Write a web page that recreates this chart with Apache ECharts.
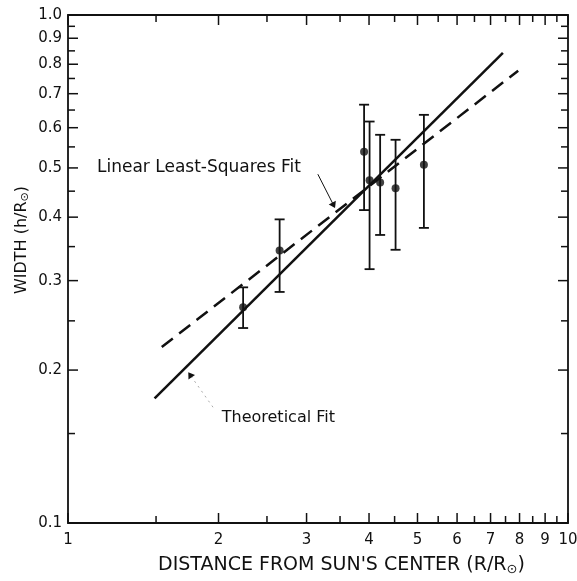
<!DOCTYPE html>
<html>
<head>
<meta charset="utf-8">
<style>
  html, body { margin: 0; padding: 0; background: #fff; }
  #chart { width: 577px; height: 581px; }
</style>
<script src="https://cdn.jsdelivr.net/npm/echarts@6/dist/echarts.min.js"></script>
</head>
<body>
<div id="chart"></div>
<script>
const distance = [2.24, 2.65, 3.91, 4.01, 4.21, 4.52, 5.15];
const width = [0.266, 0.344, 0.538, 0.473, 0.468, 0.456, 0.507];
const widthLow = [0.242, 0.285, 0.413, 0.316, 0.369, 0.345, 0.381];
const widthHigh = [0.291, 0.396, 0.666, 0.617, 0.581, 0.568, 0.636];

// fitted lines, end points
const theoryFit = [[1.49, 0.176], [7.41, 0.842]];
const lsqFit = [[1.54, 0.222], [7.95, 0.777]];

// ticks
const xMajor = [1, 2, 3, 4, 5, 6, 7, 8, 9, 10];
const xLabels = ['1', '2', '3', '4', '5', '6', '7', '8', '9', '10'];
const xMinor = [1.5, 2.5, 3.5, 4.5, 5.5, 6.5, 7.5, 8.5, 9.5];
const yMajor = [0.1, 0.2, 0.3, 0.4, 0.5, 0.6, 0.7, 0.8, 0.9, 1.0];
const yLabels = ['0.1', '0.2', '0.3', '0.4', '0.5', '0.6', '0.7', '0.8', '0.9', '1.0'];
const yMinor = [0.15, 0.25, 0.35, 0.45, 0.55, 0.65, 0.75, 0.85, 0.95];

// annotations: [text anchor, arrow start, arrow tip] in data units
const lsqNote = { text: 'Linear Least-Squares Fit', at: [1.143, 0.5], from: [3.16, 0.486], to: [3.42, 0.417] };
const theoryNote = { text: 'Theoretical Fit', at: [2.03, 0.161], from: [1.95, 0.169], to: [1.74, 0.198] };

const X_MIN = 1, X_MAX = 10, Y_MIN = 0.1, Y_MAX = 1;
const FONT = '"DejaVu Sans", sans-serif';
const INK = '#111';

const chart = echarts.init(document.getElementById('chart'));

//x刻度
function xTicks(len, labels) {
  return function (params, api) {
    const v = api.value(0);
    const b = api.coord([v, Y_MIN]);
    const t = api.coord([v, Y_MAX]);
    const kids = [
      { type: 'line', shape: { x1: b[0], y1: b[1], x2: b[0], y2: b[1] - len }, style: { stroke: INK, lineWidth: 1.5 } },
      { type: 'line', shape: { x1: t[0], y1: t[1], x2: t[0], y2: t[1] + len }, style: { stroke: INK, lineWidth: 1.5 } }
    ];
    if (labels) {
      kids.push({
        type: 'text',
        style: {
          x: b[0], y: b[1] + 17, text: labels[params.dataIndex],
          align: 'center', verticalAlign: 'middle',
          font: '15px ' + FONT, fill: INK
        }
      });
    }
    return { type: 'group', children: kids };
  };
}

//y刻度
function yTicks(len, labels) {
  return function (params, api) {
    const v = api.value(1);
    const l = api.coord([X_MIN, v]);
    const r = api.coord([X_MAX, v]);
    const kids = [
      { type: 'line', shape: { x1: l[0], y1: l[1], x2: l[0] + len, y2: l[1] }, style: { stroke: INK, lineWidth: 1.5 } },
      { type: 'line', shape: { x1: r[0], y1: r[1], x2: r[0] - len, y2: r[1] }, style: { stroke: INK, lineWidth: 1.5 } }
    ];
    if (labels) {
      kids.push({
        type: 'text',
        style: {
          x: l[0] - 6, y: l[1], text: labels[params.dataIndex],
          align: 'right', verticalAlign: 'middle',
          font: '15px ' + FONT, fill: INK
        }
      });
    }
    return { type: 'group', children: kids };
  };
}

//误差棒
function errorBar(params, api) {
  const x = api.value(0);
  const hi = api.coord([x, api.value(1)]);
  const lo = api.coord([x, api.value(2)]);
  const cap = 5;
  const s = { stroke: INK, lineWidth: 1.8 };
  return {
    type: 'group',
    children: [
      { type: 'line', shape: { x1: hi[0], y1: hi[1], x2: lo[0], y2: lo[1] }, style: s },
      { type: 'line', shape: { x1: hi[0] - cap, y1: hi[1], x2: hi[0] + cap, y2: hi[1] }, style: s },
      { type: 'line', shape: { x1: lo[0] - cap, y1: lo[1], x2: lo[0] + cap, y2: lo[1] }, style: s }
    ]
  };
}

//标注
function note(item, dotted, size) {
  return function (params, api) {
    const p = api.coord(item.at);
    const a = api.coord(item.from);
    const b = api.coord(item.to);
    const dx = b[0] - a[0], dy = b[1] - a[1];
    const n = Math.sqrt(dx * dx + dy * dy);
    const ux = dx / n, uy = dy / n;
    const h = 4; // half width of the head
    return {
      type: 'group',
      children: [
        {
          type: 'text',
          style: { x: p[0], y: p[1], text: item.text, align: 'left', verticalAlign: 'middle', font: size + 'px ' + FONT, fill: INK }
        },
        {
          type: 'line',
          shape: { x1: a[0], y1: a[1], x2: b[0] - ux * 4, y2: b[1] - uy * 4 },
          style: dotted ? { stroke: '#aaa', lineWidth: 1, lineDash: [2, 4] } : { stroke: INK, lineWidth: 1 }
        },
        {
          type: 'polygon',
          shape: { points: [[b[0], b[1]], [b[0] - ux * 6 - uy * h, b[1] - uy * 6 + ux * h], [b[0] - ux * 6 + uy * h, b[1] - uy * 6 - ux * h]] },
          style: { fill: INK }
        }
      ]
    };
  };
}

const option = {
  animation: false,
  grid: {
    left: 68, right: 9, top: 15, bottom: 58,
    show: true, borderColor: INK, borderWidth: 1.8, backgroundColor: 'transparent'
  },
  xAxis: {
    type: 'log', logBase: 10, min: X_MIN, max: X_MAX,
    axisLine: { show: false }, axisTick: { show: false }, axisLabel: { show: false }, splitLine: { show: false }
  },
  yAxis: {
    type: 'log', logBase: 10, min: Y_MIN, max: Y_MAX,
    axisLine: { show: false }, axisTick: { show: false }, axisLabel: { show: false }, splitLine: { show: false }
  },
  graphic: [
    {
      type: 'text', left: 158, top: 556,
      style: {
        text: "DISTANCE FROM SUN'S CENTER (R/R{s|⊙})",
        font: '19px ' + FONT, fill: INK,
        rich: { s: { fontSize: 13, fontFamily: 'DejaVu Sans', padding: [9, 0, 0, 0] } }
      }
    },
    {
      type: 'text', x: 22, y: 240, rotation: Math.PI / 2,
      style: {
        text: 'WIDTH (h/R{s|⊙})',
        font: '16px ' + FONT, fill: INK, align: 'center', verticalAlign: 'middle',
        rich: { s: { fontSize: 11, fontFamily: 'DejaVu Sans', padding: [7, 0, 0, 0] } }
      }
    }
  ],
  series: [
    { type: 'custom', renderItem: xTicks(10, xLabels), data: xMajor.map(v => [v, Y_MIN]), silent: true, z: 3 },
    { type: 'custom', renderItem: xTicks(7, null), data: xMinor.map(v => [v, Y_MIN]), silent: true, z: 3 },
    { type: 'custom', renderItem: yTicks(10, yLabels), data: yMajor.map(v => [X_MIN, v]), silent: true, z: 3 },
    { type: 'custom', renderItem: yTicks(7, null), data: yMinor.map(v => [X_MIN, v]), silent: true, z: 3 },
    {
      type: 'line', data: theoryFit, showSymbol: false, silent: true,
      lineStyle: { color: INK, width: 2.5 }
    },
    {
      type: 'line', data: lsqFit, showSymbol: false, silent: true,
      lineStyle: { color: INK, width: 2.5, type: [14, 8] }
    },
    {
      type: 'custom', renderItem: errorBar, silent: true,
      data: distance.map((d, i) => [d, widthHigh[i], widthLow[i]]),
      encode: { x: 0, y: [1, 2] }
    },
    {
      type: 'scatter', data: distance.map((d, i) => [d, width[i]]),
      symbolSize: 8, itemStyle: { color: INK }, silent: true, z: 4
    },
    { type: 'custom', renderItem: note(lsqNote, false, 17), data: [lsqNote.at], silent: true },
    { type: 'custom', renderItem: note(theoryNote, true, 16), data: [theoryNote.at], silent: true }
  ]
};

chart.setOption(option);
</script>
</body>
</html>
